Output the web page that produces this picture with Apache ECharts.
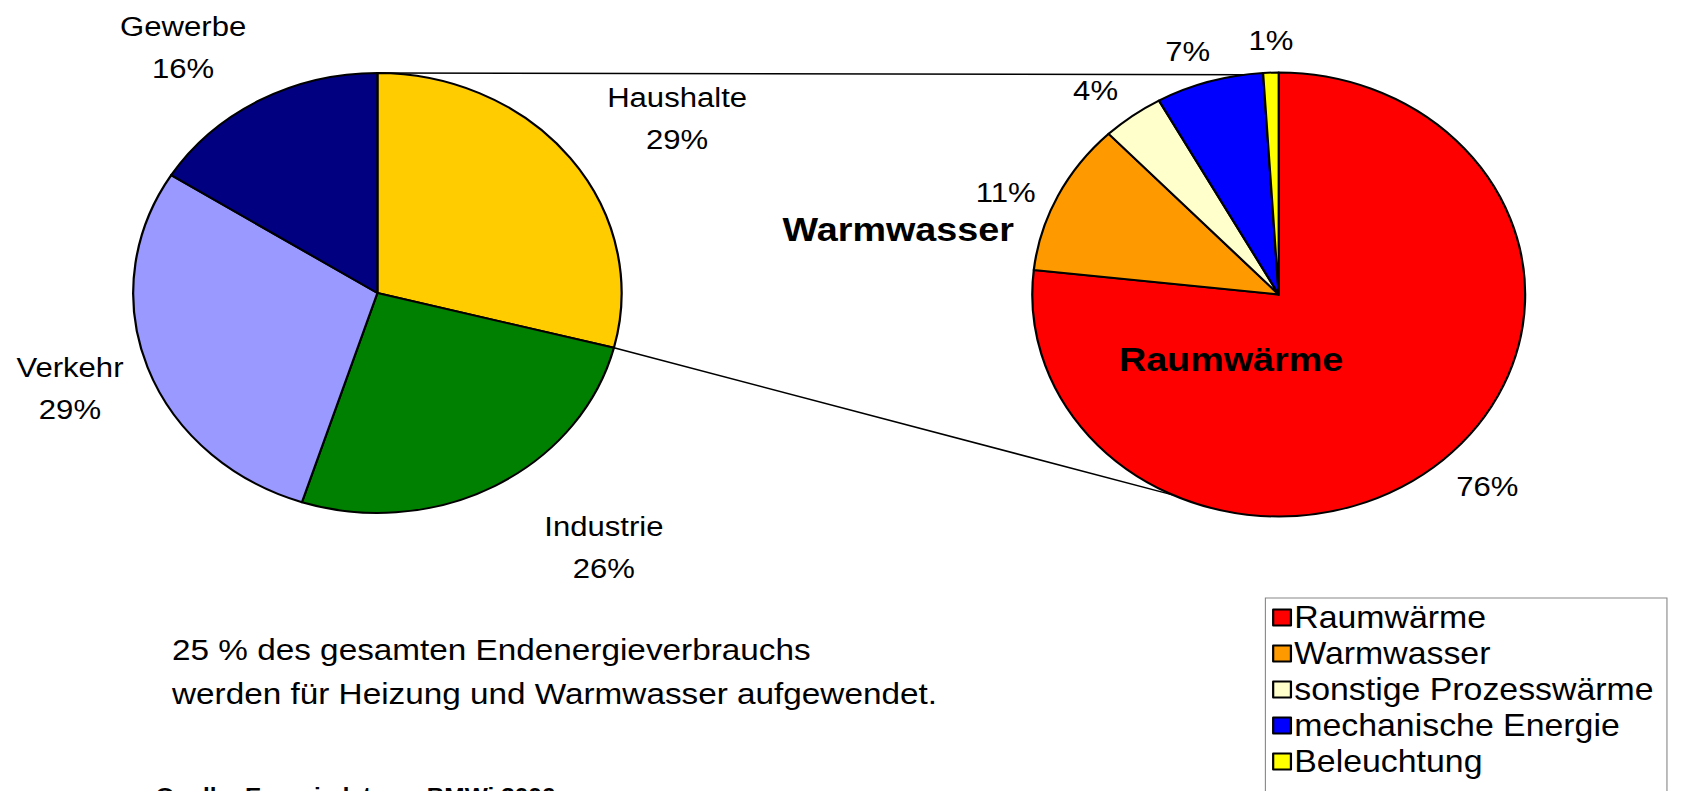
<!DOCTYPE html>
<html><head><meta charset="utf-8">
<script src="https://cdn.jsdelivr.net/npm/echarts@6/dist/echarts.min.js"></script>
<style>
html,body{margin:0;padding:0;overflow:hidden;background:#fff;width:1687px;height:791px}
#c{width:1520px;height:900px;transform:scaleX(1.11);transform-origin:0 0}
</style></head><body><div id="c"></div>
<script>
// ---- data ----
const sectorNames = ['Haushalte', 'Industrie', 'Verkehr', 'Gewerbe'];
const sectorValues = [29, 26, 29, 16];
const sectorColors = ['#FFCC00', '#008000', '#9999FF', '#000080'];

const useNames = ['Raumwärme', 'Warmwasser', 'sonstige Prozesswärme', 'mechanische Energie', 'Beleuchtung'];
const useValues = [76, 11, 4, 7, 1];
const useColors = ['#FF0000', '#FF9900', '#FFFFCC', '#0000FF', '#FFFF00'];

const noteLines = ['25 % des gesamten Endenergieverbrauchs', 'werden für Heizung und Warmwasser aufgewendet.'];
const sourceText = 'Quelle: Energiedaten – BMWi 2006';

// ---- layout (unstretched coordinates; page is stretched by scaleX) ----
const FONT = "'Liberation Sans', Arial, sans-serif";
const L = { cx: 340, cy: 293, r: 220 };
const R = { cx: 1152, cy: 294.5, r: 222 };
const leftLabelPos = [[610, 118], [544, 547], [63, 388], [165, 47]];
const rightLabelPos = [[1340, 486], [906, 192], [987, 90], [1070, 51], [1145, 40]];

function pt(c, angDeg) {
  const a = angDeg * Math.PI / 180;
  return [c.cx + c.r * Math.sin(a), c.cy - c.r * Math.cos(a)];
}
const sectorTotal = sectorValues.reduce((a, b) => a + b, 0);
const haushaltEndAngle = sectorValues[0] / sectorTotal * 360;
const p1a = [L.cx, L.cy - L.r];
const p1b = pt(R, -8);
const p2a = pt(L, haushaltEndAngle);
const p2b = pt(R, 205.5);

const chart = echarts.init(document.getElementById('c'), null, { renderer: 'svg' });
const border = { borderColor: '#000', borderWidth: 2 };

chart.setOption({
  animation: false,
  backgroundColor: '#fff',
  legend: {
    orient: 'vertical',
    left: 1140, top: 598,
    data: useNames,
    icon: 'rect',
    itemWidth: 16, itemHeight: 16, itemGap: 5,
    padding: [4, 12, 30, 6],
    borderColor: '#888', borderWidth: 1,
    textStyle: { fontFamily: FONT, fontSize: 30.5, color: '#000', padding: [0, 0, 0, -2] },
    selectedMode: false
  },
  graphic: [
    { type: 'line', shape: { x1: p1a[0], y1: p1a[1], x2: p1b[0], y2: p1b[1] }, style: { stroke: '#000', lineWidth: 1.5 }, z: 0 },
    { type: 'line', shape: { x1: p2a[0], y1: p2a[1], x2: p2b[0], y2: p2b[1] }, style: { stroke: '#000', lineWidth: 1.5 }, z: 0 },
    { type: 'text', left: 705, top: 212, z: 10, style: { text: useNames[1], font: 'bold 34px ' + FONT, fill: '#000' } },
    { type: 'text', left: 1008, top: 342, z: 10, style: { text: useNames[0], font: 'bold 34px ' + FONT, fill: '#000' } },
    { type: 'text', left: 155, top: 628, z: 10, style: { text: noteLines.join('\n'), font: '30px ' + FONT, fill: '#000', lineHeight: 44 } },
    { type: 'text', left: 140, top: 784, z: 10, style: { text: sourceText, font: 'bold 22px ' + FONT, fill: '#000' } }
  ],
  series: [
    {
      type: 'pie', center: [L.cx, L.cy], radius: L.r,
      startAngle: 90, clockwise: true, avoidLabelOverlap: false,
      emphasis: { disabled: true },
      itemStyle: border,
      label: {
        show: true, position: 'outside', formatter: '{b}\n{c}%',
        fontFamily: FONT, fontSize: 28, lineHeight: 42, color: '#000', align: 'center'
      },
      labelLine: { show: false },
      labelLayout: p => ({ x: leftLabelPos[p.dataIndex][0], y: leftLabelPos[p.dataIndex][1], align: 'center', verticalAlign: 'middle' }),
      data: sectorNames.map((n, i) => ({ name: n, value: sectorValues[i], itemStyle: { color: sectorColors[i] } }))
    },
    {
      type: 'pie', center: [R.cx, R.cy], radius: R.r,
      startAngle: 90, clockwise: true, avoidLabelOverlap: false,
      emphasis: { disabled: true },
      itemStyle: border,
      label: {
        show: true, position: 'outside', formatter: '{c}%',
        fontFamily: FONT, fontSize: 28, color: '#000'
      },
      labelLine: { show: false },
      labelLayout: p => ({ x: rightLabelPos[p.dataIndex][0], y: rightLabelPos[p.dataIndex][1], align: 'center', verticalAlign: 'middle' }),
      data: useNames.map((n, i) => ({ name: n, value: useValues[i], itemStyle: { color: useColors[i] } }))
    }
  ]
});
</script></body></html>
